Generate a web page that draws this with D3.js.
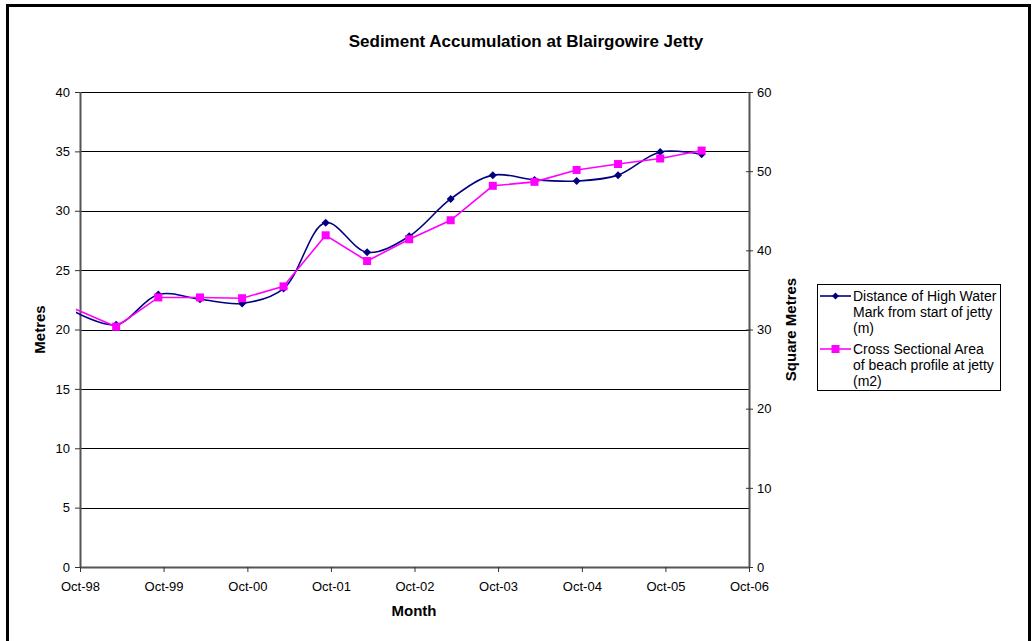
<!DOCTYPE html>
<html>
<head>
<meta charset="utf-8">
<script src="https://cdn.jsdelivr.net/npm/d3@7"></script>
<style>
  html, body { margin: 0; padding: 0; background: #fff; }
  text { font-family: "Liberation Sans", Arial, sans-serif; }
</style>
</head>
<body>
<svg id="chart" width="1035" height="641"></svg>
<script>
// ---- data ----
const dates = ["1998-09-08","1999-03-08","1999-09-08","2000-03-08","2000-09-08","2001-03-08",
  "2001-09-08","2002-03-08","2002-09-08","2003-03-08","2003-09-08","2004-03-08",
  "2004-09-08","2005-03-08","2005-09-08","2006-03-08"];
const highWaterMark = [21.5, 20.4, 22.95, 22.55, 22.2, 23.45, 29.0, 26.5, 27.85, 31.0, 33.0, 32.6, 32.5, 33.0, 34.95, 34.75];
const crossSection = [32.6, 30.35, 34.05, 34.05, 33.95, 35.45, 41.9, 38.65, 41.4, 43.8, 48.15, 48.65, 50.15, 50.9, 51.6, 52.6];
const xTickDates = ["1998-10-01","1999-10-01","2000-10-01","2001-10-01","2002-10-01","2003-10-01","2004-10-01","2005-10-01","2006-10-01"];
const leftTicks = [0, 5, 10, 15, 20, 25, 30, 35, 40];
const rightTicks = [0, 10, 20, 30, 40, 50, 60];
const seriesNames = [["Distance of High Water", "Mark from start of jetty", "(m)"],
                     ["Cross Sectional Area", "of beach profile at jetty", "(m2)"]];
const titleText = "Sediment Accumulation at Blairgowire Jetty";

// ---- layout ----
const svg = d3.select("#chart");
const plot = { left: 80, right: 749, top: 92, bottom: 567 };
const parse = d3.timeParse("%Y-%m-%d");
const x = d3.scaleTime().domain([parse(xTickDates[0]), parse(xTickDates[xTickDates.length - 1])]).range([plot.left, plot.right]);
const yL = d3.scaleLinear().domain([0, 40]).range([plot.bottom, plot.top]);
const yR = d3.scaleLinear().domain([0, 60]).range([plot.bottom, plot.top]);
const blue = "#000080", pink = "#FF00FF";

// outer border
svg.append("rect").attr("x", 7.5).attr("y", 5.5).attr("width", 1022).attr("height", 660)
  .attr("fill", "none").attr("stroke", "#000").attr("stroke-width", 3);

// title
svg.append("text").attr("x", 526).attr("y", 47).attr("text-anchor", "middle")
  .attr("font-size", 17).attr("font-weight", "bold").text(titleText);

// gridlines
svg.append("g").selectAll("line").data(leftTicks.filter(d => d > 0)).join("line")
  .attr("x1", plot.left).attr("x2", plot.right)
  .attr("y1", d => Math.round(yL(d)) + 0.5).attr("y2", d => Math.round(yL(d)) + 0.5)
  .attr("stroke", "#000").attr("stroke-width", 1);

// left axis
const axL = d3.axisLeft(yL).tickValues(leftTicks).tickSize(5).tickPadding(5);
const gL = svg.append("g").attr("transform", `translate(${plot.left},0)`).call(axL);
// right axis
const axR = d3.axisRight(yR).tickValues(rightTicks).tickSize(4).tickPadding(4);
const gR = svg.append("g").attr("transform", `translate(${plot.right},0)`).call(axR);
gR.selectAll(".tick line").attr("x1", -3);
// bottom axis
const axB = d3.axisBottom(x).tickValues(xTickDates.map(parse)).tickFormat(d3.timeFormat("%b-%y")).tickSize(5).tickPadding(10);
const gB = svg.append("g").attr("transform", `translate(0,${plot.bottom})`).call(axB);

[gL, gR, gB].forEach(g => {
  g.select(".domain").attr("stroke", "#555").attr("stroke-width", 2);
  g.selectAll(".tick line").attr("stroke", "#333");
  g.selectAll(".tick text").attr("font-size", 13).attr("fill", "#000")
    .attr("font-family", "Liberation Sans, Arial, sans-serif");
});
gL.select(".domain").attr("d", `M0.5,${plot.bottom}V${plot.top}`);
gR.select(".domain").attr("d", `M0.5,${plot.bottom}V${plot.top}`);
gB.select(".domain").attr("d", `M${plot.left},0.5H${plot.right}`);

// axis titles
svg.append("text").attr("transform", `translate(45,${(plot.top + plot.bottom) / 2}) rotate(-90)`)
  .attr("text-anchor", "middle").attr("font-size", 15).attr("font-weight", "bold").text("Metres");
svg.append("text").attr("transform", `translate(796,${(plot.top + plot.bottom) / 2}) rotate(-90)`)
  .attr("text-anchor", "middle").attr("font-size", 15).attr("font-weight", "bold").text("Square Metres");
svg.append("text").attr("x", 414).attr("y", 616).attr("text-anchor", "middle")
  .attr("font-size", 15).attr("font-weight", "bold").text("Month");

// clip paths
const defs = svg.append("defs");
defs.append("clipPath").attr("id", "clipLine").append("rect")
  .attr("x", plot.left - 4).attr("y", plot.top - 10).attr("width", plot.right - plot.left + 14).attr("height", plot.bottom - plot.top + 20);
defs.append("clipPath").attr("id", "clipMark").append("rect")
  .attr("x", plot.left).attr("y", plot.top - 10).attr("width", plot.right - plot.left + 14).attr("height", plot.bottom - plot.top + 20);

const ptsA = dates.map((d, i) => [x(parse(d)), yL(highWaterMark[i])]);
const ptsB = dates.map((d, i) => [x(parse(d)), yR(crossSection[i])]);

const lineSmooth = d3.line().curve(d3.curveCatmullRom.alpha(0.5));
const lineStraight = d3.line();

const gLines = svg.append("g").attr("clip-path", "url(#clipLine)");
gLines.append("path").attr("d", lineSmooth(ptsA)).attr("fill", "none").attr("stroke", blue).attr("stroke-width", 1.6);
gLines.append("path").attr("d", lineStraight(ptsB)).attr("fill", "none").attr("stroke", pink).attr("stroke-width", 1.6);

const gMarks = svg.append("g").attr("clip-path", "url(#clipMark)");
const diamond = s => `M0,${-s}L${s},0L0,${s}L${-s},0Z`;
gMarks.selectAll("path.dia").data(ptsA).join("path").attr("class", "dia")
  .attr("transform", d => `translate(${d[0]},${d[1]})`).attr("d", diamond(4)).attr("fill", blue);
gMarks.selectAll("rect.sq").data(ptsB).join("rect").attr("class", "sq")
  .attr("x", d => d[0] - 4).attr("y", d => d[1] - 4).attr("width", 8).attr("height", 8).attr("fill", pink);

// legend
const lg = svg.append("g");
lg.append("rect").attr("x", 817.5).attr("y", 284.5).attr("width", 183).attr("height", 106)
  .attr("fill", "#fff").attr("stroke", "#000").attr("stroke-width", 1);
const legendRows = [{ y: 296, color: blue, kind: "dia" }, { y: 349, color: pink, kind: "sq" }];
legendRows.forEach((r, i) => {
  lg.append("line").attr("x1", 820).attr("x2", 851).attr("y1", r.y).attr("y2", r.y)
    .attr("stroke", r.color).attr("stroke-width", 1.6);
  if (r.kind === "dia") {
    lg.append("path").attr("transform", `translate(835.5,${r.y})`).attr("d", diamond(3.5)).attr("fill", r.color);
  } else {
    lg.append("rect").attr("x", 831.5).attr("y", r.y - 4).attr("width", 8).attr("height", 8).attr("fill", r.color);
  }
  seriesNames[i].forEach((t, j) => {
    lg.append("text").attr("x", 853).attr("y", r.y + 5 + j * 16).attr("font-size", 14).text(t);
  });
});
</script>
</body>
</html>
